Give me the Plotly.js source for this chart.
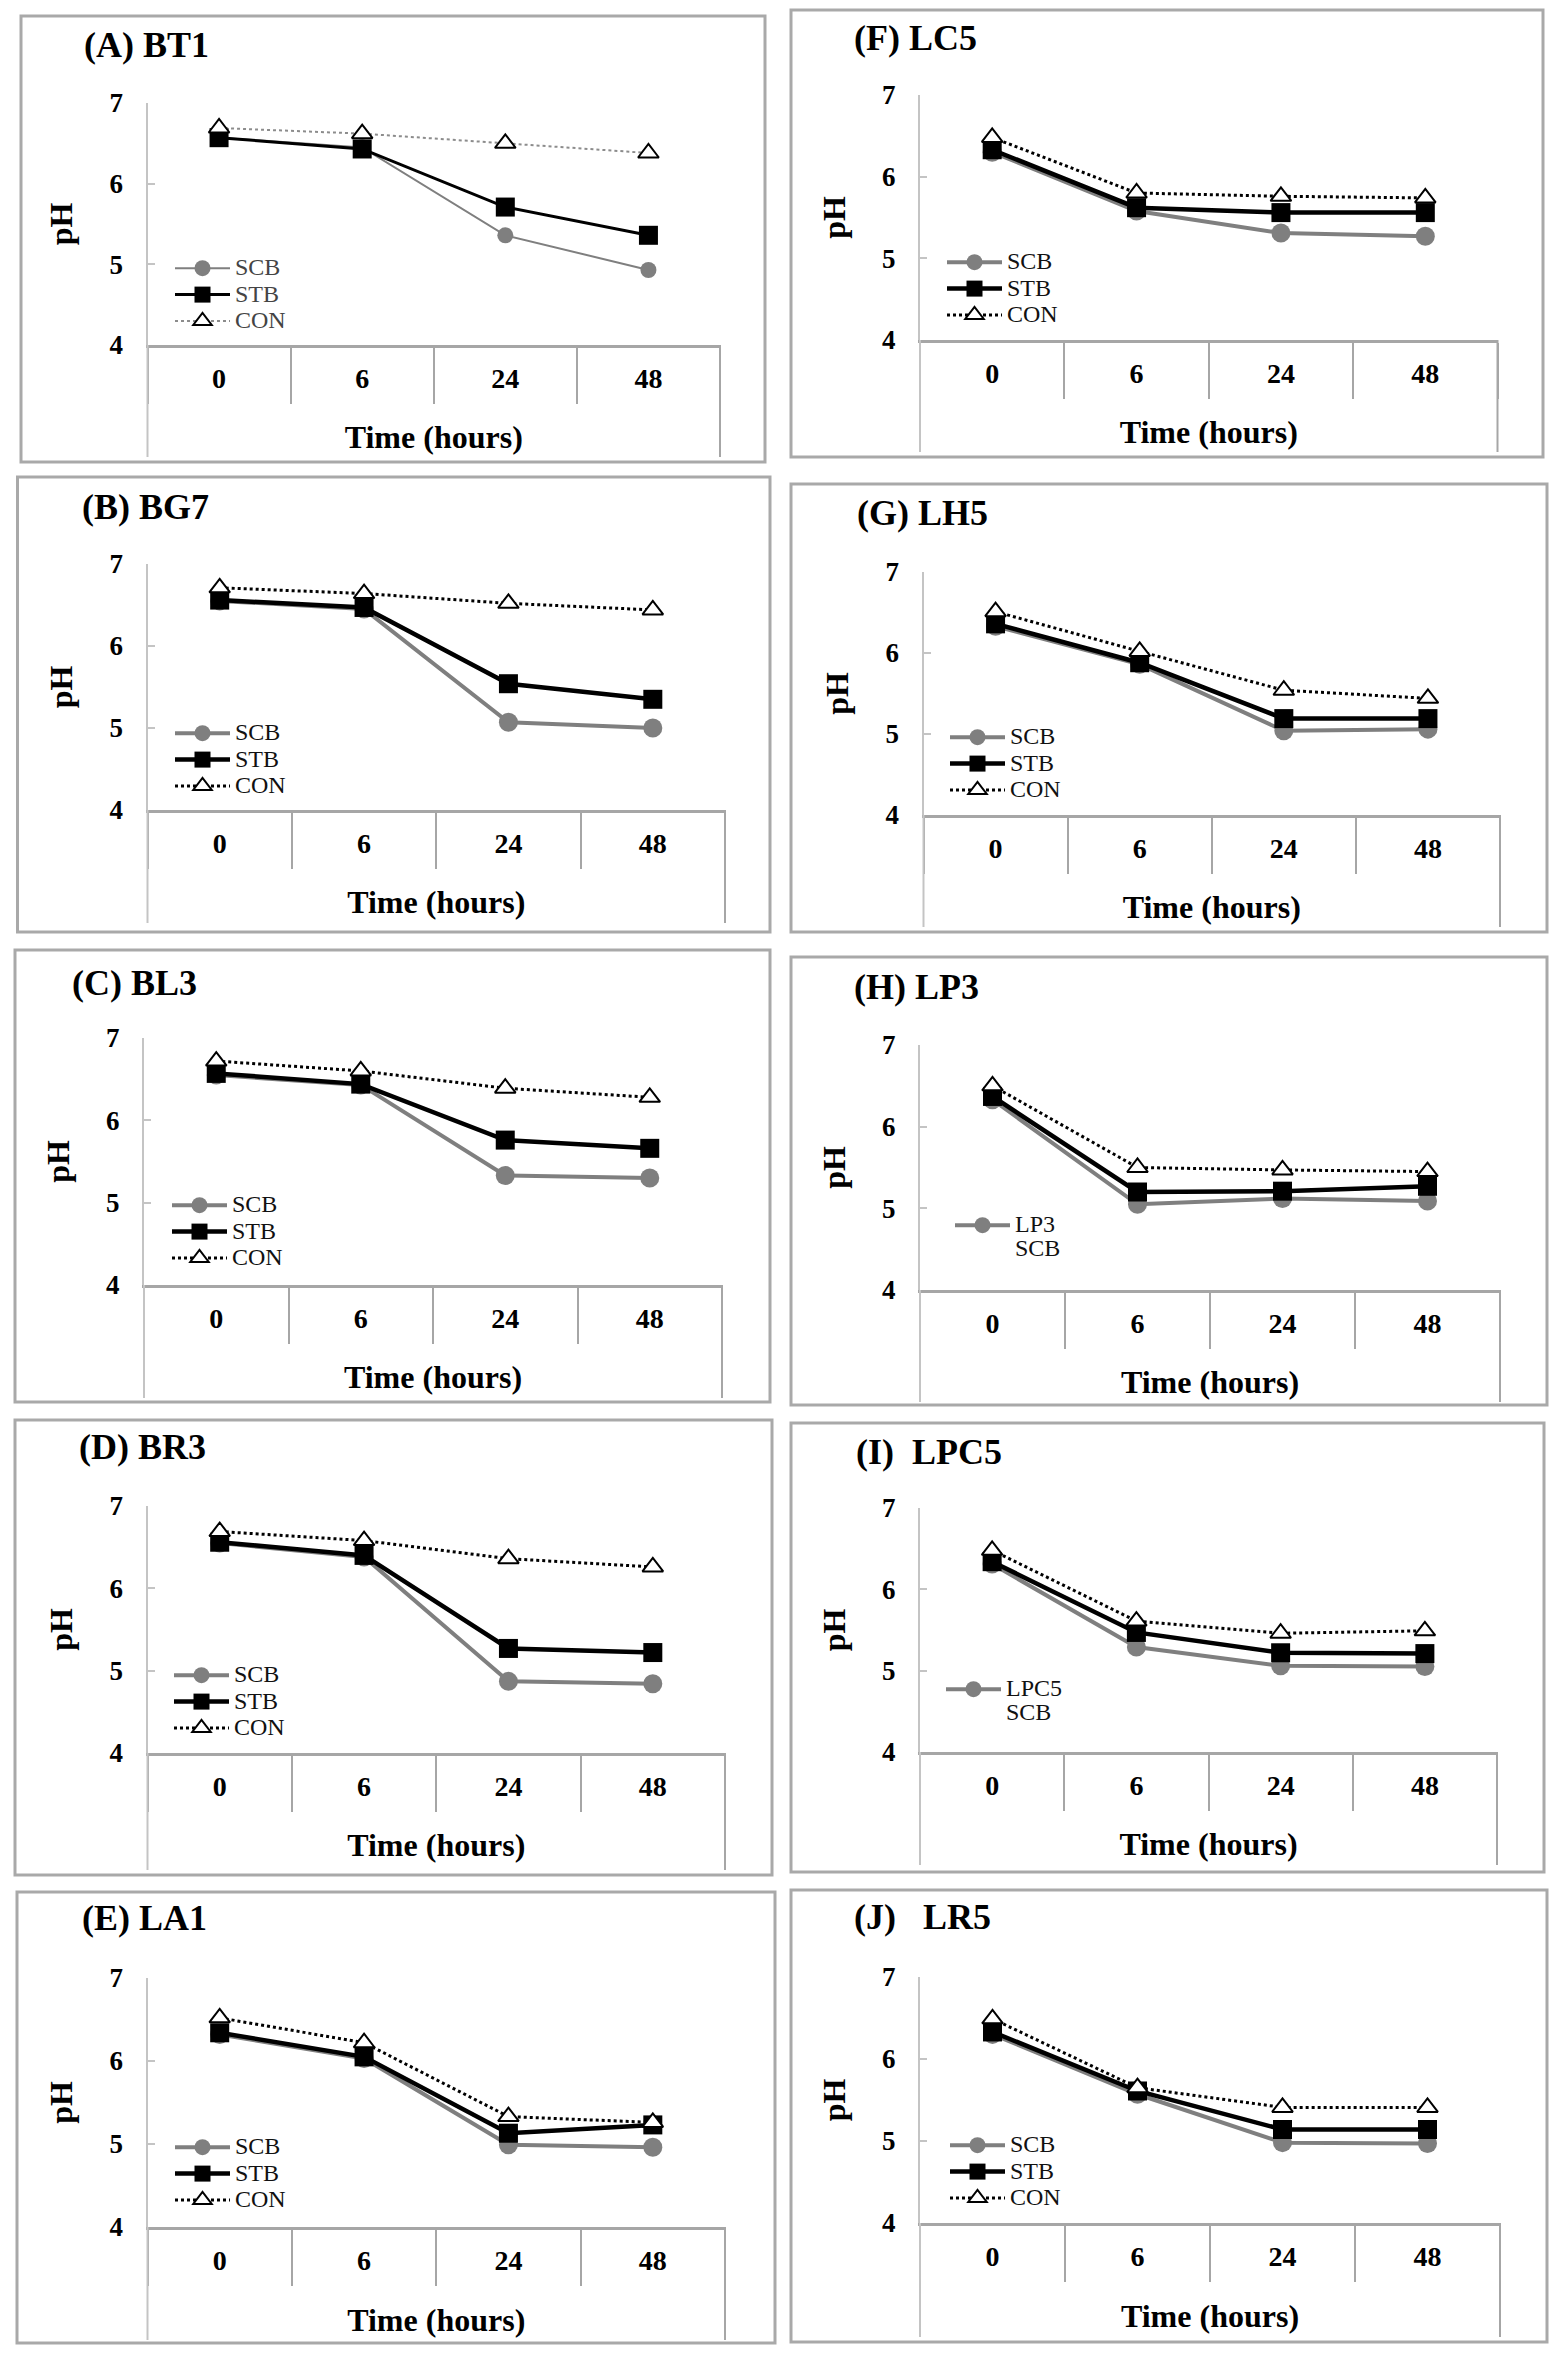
<!DOCTYPE html>
<html><head><meta charset="utf-8">
<script src="https://cdn.plot.ly/plotly-3.0.1.min.js"></script>
<style>html,body{margin:0;padding:0;background:#fff}</style>
</head><body>
<div id="chart" style="width:1553px;height:2362px"></div>
<script>
// ---------- data ----------
const timeLabels = ['0', '6', '24', '48'];
const panelTitles = ['(A) BT1', '(B) BG7', '(C) BL3', '(D) BR3', '(E) LA1',
  '(F) LC5', '(G) LH5', '(H) LP3', '(I)\u00a0\u00a0LPC5', '(J)\u00a0\u00a0\u00a0LR5'];
const seriesNames = ['SCB', 'STB', 'CON'];
const singleLegendNames = ['', '', '', '', '', '', '', 'LP3|SCB', 'LPC5|SCB', ''];

const scbBT1 = [6.57, 6.45, 5.36, 4.93], stbBT1 = [6.57, 6.43, 5.71, 5.36], conBT1 = [6.69, 6.62, 6.50, 6.38];
const scbBG7 = [6.55, 6.45, 5.07, 5.00], stbBG7 = [6.56, 6.47, 5.54, 5.35], conBG7 = [6.71, 6.64, 6.52, 6.44];
const scbBL3 = [6.55, 6.43, 5.33, 5.30], stbBL3 = [6.57, 6.44, 5.76, 5.66], conBL3 = [6.72, 6.60, 6.39, 6.28];
const scbBR3 = [6.55, 6.38, 4.87, 4.84], stbBR3 = [6.56, 6.40, 5.27, 5.22], conBR3 = [6.69, 6.58, 6.36, 6.26];
const scbLA1 = [6.32, 6.03, 4.99, 4.96], stbLA1 = [6.34, 6.05, 5.13, 5.23], conLA1 = [6.52, 6.22, 5.33, 5.26];
const scbLC5 = [6.30, 5.58, 5.31, 5.27], stbLC5 = [6.33, 5.62, 5.56, 5.56], conLC5 = [6.48, 5.80, 5.76, 5.74];
const scbLH5 = [6.33, 5.86, 5.04, 5.06], stbLH5 = [6.36, 5.88, 5.19, 5.19], conLH5 = [6.51, 6.02, 5.54, 5.44];
const scbLP3 = [6.33, 5.05, 5.12, 5.09], stbLP3 = [6.37, 5.20, 5.21, 5.27], conLP3 = [6.50, 5.50, 5.47, 5.45];
const scbLPC5 = [6.31, 5.29, 5.06, 5.05], stbLPC5 = [6.34, 5.47, 5.22, 5.21], conLPC5 = [6.48, 5.61, 5.46, 5.49];
const scbLR5 = [6.30, 5.57, 4.98, 4.97], stbLR5 = [6.33, 5.61, 5.14, 5.14], conLR5 = [6.49, 5.65, 5.41, 5.41];

const scbSets = [scbBT1, scbBG7, scbBL3, scbBR3, scbLA1, scbLC5, scbLH5, scbLP3, scbLPC5, scbLR5];
const stbSets = [stbBT1, stbBG7, stbBL3, stbBR3, stbLA1, stbLC5, stbLH5, stbLP3, stbLPC5, stbLR5];
const conSets = [conBT1, conBG7, conBL3, conBR3, conLA1, conLC5, conLH5, conLP3, conLPC5, conLR5];

// ---------- layout geometry (pixels) ----------
const W = 1553, H = 2362;
// plot: [x0, x1, yTop(7), yBottom(4)], box: [x0, x1, y0, y1], tableBottom, title:[x, y], legend:[x, y]
const geom = [
  {plot: [147.5, 720, 103, 345], box: [21, 765, 16, 462], bottom: 457, title: [82, 45], legend: [170, 250]},
  {plot: [147.5, 725, 564, 810], box: [17.5, 770, 477, 932], bottom: 923, title: [80, 507], legend: [170, 715]},
  {plot: [144, 722, 1038, 1285], box: [15, 770, 950, 1402], bottom: 1398, title: [70, 983], legend: [167, 1187]},
  {plot: [147.5, 725, 1506, 1753], box: [15, 772, 1420, 1875], bottom: 1870, title: [77, 1447], legend: [169, 1657]},
  {plot: [147.5, 725, 1978, 2227], box: [17, 775, 1892, 2343], bottom: 2340, title: [80, 1918], legend: [170, 2129]},
  {plot: [920, 1497.5, 95, 340], box: [791, 1543, 10, 457], bottom: 452, title: [852, 38], legend: [942, 244]},
  {plot: [923.5, 1500, 572, 815], box: [791, 1547, 484, 932], bottom: 927, title: [855, 513], legend: [945, 719]},
  {plot: [920, 1500, 1045, 1290], box: [791, 1547, 957, 1405], bottom: 1402, title: [852, 987], legend: [950, 1207]},
  {plot: [920, 1497, 1508, 1752], box: [791, 1544, 1423, 1872], bottom: 1865, title: [854, 1452], legend: [941, 1671]},
  {plot: [920, 1500, 1977, 2223], box: [791, 1547, 1890, 2342], bottom: 2337, title: [852, 1917], legend: [945, 2127]}
];

const FONT = 'Liberation Serif, Times New Roman, serif';
const px = v => v / W;
const py = v => 1 - v / H;
const big = t => '<span style="font-size:24px">' + t + '</span>';

const traces = [];
const layout = {
  width: W, height: H,
  margin: {l: 0, r: 0, t: 0, b: 0},
  paper_bgcolor: '#fff', plot_bgcolor: 'rgba(0,0,0,0)',
  showlegend: true,
  font: {family: FONT, color: '#000'},
  shapes: [], annotations: []
};

geom.forEach((g, i) => {
  const n = i === 0 ? '' : String(i + 1);
  const xa = 'x' + n, ya = 'y' + n, lg = 'legend' + n;
  const thinA = i === 0;
  const single = singleLegendNames[i];

  const styles = [
    {line: {color: '#7f7f7f', width: thinA ? 2 : 4}, marker: {symbol: 'circle', size: thinA ? 16 : 19, color: '#7f7f7f'}},
    {line: {color: '#000', width: thinA ? 3 : 4.5}, marker: {symbol: 'square', size: 19, color: '#000'}},
    {line: {color: thinA ? '#8c8c8c' : '#000', width: thinA ? 2 : 3, dash: 'dot'},
     marker: {symbol: 'triangle-up', size: 18, color: '#fff', line: {color: '#000', width: 2}}}
  ];
  const sets = [scbSets[i], stbSets[i], conSets[i]];
  sets.forEach((ys, k) => {
    let name = big(seriesNames[k]);
    let show = true;
    if (single) {
      if (k === 0) name = single.split('|').map(big).join('<br>');
      else show = false;
    }
    traces.push({
      type: 'scatter', mode: 'lines+markers',
      x: timeLabels, y: ys, xaxis: xa, yaxis: ya,
      name: name, legend: lg, showlegend: show,
      line: styles[k].line, marker: styles[k].marker,
      cliponaxis: false, hoverinfo: 'skip'
    });
  });

  const [x0, x1, yT, yB] = g.plot;
  layout['xaxis' + n] = {
    domain: [px(x0), px(x1)], anchor: ya,
    type: 'category', categoryorder: 'array', categoryarray: timeLabels,
    range: [-0.5, 3.5],
    tickson: 'boundaries', ticks: 'outside', ticklen: 56, tickwidth: 2, tickcolor: '#a6a6a6',
    showline: true, linecolor: '#a6a6a6', linewidth: 3,
    showgrid: false, zeroline: false,
    tickfont: {family: FONT, size: 28, weight: 'bold', color: '#000'},
    ticklabelstandoff: 6,
    title: {text: 'Time (hours)', font: {family: FONT, size: 32, weight: 'bold', color: '#000'}, standoff: 34},
    fixedrange: true
  };
  layout['yaxis' + n] = {
    domain: [py(yB), py(yT)], anchor: xa,
    range: [4, 7], tickvals: [4, 5, 6, 7],
    ticks: 'inside', ticklen: 7, tickwidth: 2, tickcolor: '#c4c4c4',
    showline: true, linecolor: '#c4c4c4', linewidth: 2,
    showgrid: false, zeroline: false,
    tickfont: {family: FONT, size: 27, weight: 'bold', color: '#000'},
    ticklabelstandoff: 17,
    title: {text: 'pH', font: {family: FONT, size: 32, weight: 'bold', color: '#000'}, standoff: 27},
    fixedrange: true
  };
  layout[lg] = {
    x: px(g.legend[0]), y: py(g.legend[1]), xanchor: 'left', yanchor: 'top',
    bgcolor: 'rgba(0,0,0,0)', borderwidth: 0,
    font: {family: FONT, size: 18, color: thinA ? '#444' : '#111'},
    itemwidth: 55, valign: single ? 'top' : 'middle',
    itemclick: false, itemdoubleclick: false
  };
  // outer frame of panel
  const b = g.box;
  layout.shapes.push({type: 'rect', xref: 'paper', yref: 'paper',
    x0: px(b[0]), x1: px(b[1]), y0: py(b[3]), y1: py(b[2]),
    line: {color: '#a9a9a9', width: 3}, fillcolor: 'rgba(0,0,0,0)', layer: 'below'});
  // table side lines below the x axis
  layout.shapes.push({type: 'line', xref: 'paper', yref: 'paper',
    x0: px(x0), x1: px(x0), y0: py(yB), y1: py(g.bottom), line: {color: '#c4c4c4', width: 2}});
  layout.shapes.push({type: 'line', xref: 'paper', yref: 'paper',
    x0: px(x1), x1: px(x1), y0: py(yB), y1: py(g.bottom), line: {color: '#a6a6a6', width: 2}});
  // panel title
  layout.annotations.push({text: panelTitles[i], xref: 'paper', yref: 'paper',
    x: px(g.title[0]), y: py(g.title[1]), xanchor: 'left', yanchor: 'middle', showarrow: false,
    font: {family: FONT, size: 36, weight: 'bold', color: '#000'}});
});

Plotly.newPlot('chart', traces, layout, {staticPlot: true, displayModeBar: false});
</script>
</body></html>
